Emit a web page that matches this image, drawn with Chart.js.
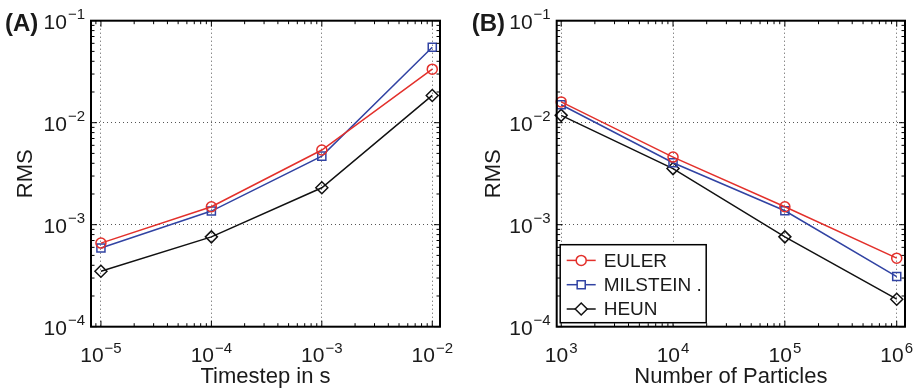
<!DOCTYPE html>
<html>
<head>
<meta charset="utf-8">
<script src="https://cdn.jsdelivr.net/npm/chart.js@4/dist/chart.umd.min.js"></script>
<style>
body { margin: 0; background: #fff; }
#wrapA { position: absolute; left: 0; top: 0; width: 457px; height: 391px; }
#wrapB { position: absolute; left: 457px; top: 0; width: 458px; height: 391px; }
</style>
</head>
<body>
<div id="wrapA"><canvas id="chartA"></canvas></div>
<div id="wrapB"><canvas id="chartB"></canvas></div>
<script>
/* Data */
var timesteps = [1e-5, 1e-4, 1e-3, 1e-2];
var particles = [1e3, 1e4, 1e5, 1e6];

var eulerA = [6.6e-4, 1.5e-3, 5.4e-3, 3.35e-2];
var milsteinA = [5.9e-4, 1.36e-3, 4.7e-3, 5.5e-2];
var heunA = [3.5e-4, 7.6e-4, 2.3e-3, 1.85e-2];

var eulerB = [1.6e-2, 4.6e-3, 1.5e-3, 4.7e-4];
var milsteinB = [1.5e-2, 4.05e-3, 1.37e-3, 3.1e-4];
var heunB = [1.18e-2, 3.55e-3, 7.6e-4, 1.86e-4];

var seriesNames = ['EULER', 'MILSTEIN .', 'HEUN'];
var xTicksA = [-5, -4, -3, -2];
var xTicksB = [3, 4, 5, 6];
var yTicks = [-4, -3, -2, -1];

var RED = '#e3302b';
var BLUE = '#3143a3';
var BLACK = '#111111';
var FONT = "'Liberation Sans', Arial, Helvetica, sans-serif";

function pts(xs, ys) {
    var out = [];
    for (let i = 0; i < xs.length; i++) {
        out.push({x: xs[i], y: ys[i]});
    }
    return out;
}

function makeSets(xs, e, m, h) {
    return [
        {label: seriesNames[0], data: pts(xs, e), borderColor: RED, pointStyle: 'circle', pointRadius: 5},
        {label: seriesNames[1], data: pts(xs, m), borderColor: BLUE, pointStyle: 'rect', pointRadius: 5.7},
        {label: seriesNames[2], data: pts(xs, h), borderColor: BLACK, pointStyle: 'rectRot', pointRadius: 6}
    ].map(function(d) {
        d.borderWidth = 1.5;
        d.pointBorderColor = d.borderColor;
        d.pointBackgroundColor = 'rgba(0,0,0,0)';
        d.pointBorderWidth = 1.5;
        d.tension = 0;
        d.clip = false;
        return d;
    });
}

/* draws 10^n as text with a raised exponent */
function drawPow(ctx, n, x, y, mode) {
    var base = '10';
    var ex = (n < 0 ? '\u2212' : '') + Math.abs(n);
    ctx.font = '21px ' + FONT;
    var wb = ctx.measureText(base).width;
    ctx.font = '15px ' + FONT;
    var we = ctx.measureText(ex).width;
    var left, raise;
    if (mode == 'x') {
        left = x - (wb + we + 1) / 2;
        raise = 8.5;
    } else {
        left = x - (wb + we + 1);
        raise = 10;
    }
    ctx.fillStyle = '#1a1a1a';
    ctx.textBaseline = 'alphabetic';
    ctx.textAlign = 'left';
    ctx.font = '21px ' + FONT;
    ctx.fillText(base, left, y);
    ctx.font = '15px ' + FONT;
    ctx.fillText(ex, left + wb + 1, y - raise);
}

var matlabAxes = {
    id: 'matlabAxes',
    afterDraw: function(chart, args, opts) {
        var ctx = chart.ctx;
        var ca = chart.chartArea;
        var xs = chart.scales.x;
        var ys = chart.scales.y;
        ctx.save();
        ctx.strokeStyle = '#000';
        ctx.lineWidth = 1;
        /* inward ticks, major + minor */
        function tickLoop(scale, horiz) {
            var lo = Math.floor(Math.log10(scale.min));
            var hi = Math.ceil(Math.log10(scale.max));
            for (let n = lo; n <= hi; n++) {
                for (let k = 1; k <= 9; k++) {
                    var v = k * Math.pow(10, n);
                    if (v < scale.min || v > scale.max) continue;
                    var p = scale.getPixelForValue(v);
                    var len = (k == 1) ? 6 : 3.5;
                    ctx.beginPath();
                    if (horiz) {
                        ctx.moveTo(p, ca.bottom); ctx.lineTo(p, ca.bottom - len);
                        ctx.moveTo(p, ca.top); ctx.lineTo(p, ca.top + len);
                    } else {
                        ctx.moveTo(ca.left, p); ctx.lineTo(ca.left + len, p);
                        ctx.moveTo(ca.right, p); ctx.lineTo(ca.right - len, p);
                    }
                    ctx.stroke();
                }
            }
        }
        tickLoop(xs, true);
        tickLoop(ys, false);
        ctx.lineWidth = 2;
        ctx.strokeRect(ca.left, ca.top, ca.right - ca.left, ca.bottom - ca.top);

        /* tick labels */
        opts.xExp.forEach(function(n) {
            drawPow(ctx, n, xs.getPixelForValue(Math.pow(10, n)), ca.bottom + 35, 'x');
        });
        yTicks.forEach(function(n) {
            drawPow(ctx, n, ca.left - 6, ys.getPixelForValue(Math.pow(10, n)) + 8.5, 'y');
        });

        /* panel letter */
        ctx.font = 'bold 24px ' + FONT;
        ctx.fillStyle = '#1a1a1a';
        ctx.textAlign = 'left';
        ctx.textBaseline = 'alphabetic';
        ctx.fillText(opts.letter, opts.letterX, 31);

        /* legend box */
        if (opts.legend) {
            var bl = ca.left + 3.5, bb = ca.bottom - 4, bw = 146, bh = 78;
            var bt = bb - bh;
            ctx.fillStyle = '#fff';
            ctx.fillRect(bl, bt, bw, bh);
            ctx.lineWidth = 1.5;
            ctx.strokeStyle = '#000';
            ctx.strokeRect(bl, bt, bw, bh);
            chart.data.datasets.forEach(function(d, i) {
                var cy = bt + 15.7 + i * 24.3;
                ctx.strokeStyle = d.borderColor;
                ctx.lineWidth = 1.5;
                ctx.beginPath();
                ctx.moveTo(bl + 6.5, cy); ctx.lineTo(bl + 35.5, cy);
                ctx.stroke();
                var cx = bl + 21, r = d.pointRadius;
                ctx.beginPath();
                if (d.pointStyle == 'circle') {
                    ctx.arc(cx, cy, r, 0, Math.PI * 2);
                } else if (d.pointStyle == 'rect') {
                    var s = r * Math.SQRT1_2;
                    ctx.rect(cx - s, cy - s, 2 * s, 2 * s);
                } else {
                    ctx.moveTo(cx - r, cy); ctx.lineTo(cx, cy - r);
                    ctx.lineTo(cx + r, cy); ctx.lineTo(cx, cy + r);
                    ctx.closePath();
                }
                ctx.fillStyle = '#fff';
                ctx.fill();
                ctx.stroke();
                ctx.fillStyle = '#1a1a1a';
                ctx.font = '19px ' + FONT;
                ctx.textBaseline = 'middle';
                ctx.fillText(d.label, bl + 43.5, cy + 1);
            });
        }
        ctx.restore();
    }
};

function decadeTicks(list) {
    return function(scale) {
        scale.ticks = list.map(function(n) { return {value: Math.pow(10, n)}; });
    };
}

function makeConfig(xs, e, m, h, xMin, xMax, xExp, xTitle, yWidth, titlePad, padRight, letter, letterX, legend) {
    return {
        type: 'line',
        data: {datasets: makeSets(xs, e, m, h)},
        options: {
            responsive: true,
            maintainAspectRatio: false,
            animation: false,
            layout: {padding: {left: 0, right: padRight, top: 20.7, bottom: 0}},
            plugins: {
                legend: {display: false},
                tooltip: {enabled: false},
                matlabAxes: {xExp: xExp, letter: letter, letterX: letterX, legend: legend}
            },
            scales: {
                x: {
                    type: 'logarithmic',
                    min: xMin,
                    max: xMax,
                    afterBuildTicks: decadeTicks(xExp),
                    afterFit: function(scale) { scale.height = 64.3; },
                    ticks: {display: false},
                    grid: {color: '#555', lineWidth: 1, drawTicks: false},
                    border: {display: false, dash: [1, 3]},
                    title: {display: true, text: xTitle, color: '#1a1a1a',
                        font: {family: FONT, size: 22}, padding: {top: 0, bottom: 1}}
                },
                y: {
                    type: 'logarithmic',
                    min: 1e-4,
                    max: 1e-1,
                    afterBuildTicks: decadeTicks(yTicks),
                    afterFit: function(scale) { scale.width = yWidth; },
                    ticks: {display: false},
                    grid: {color: '#555', lineWidth: 1, drawTicks: false},
                    border: {display: false, dash: [1, 3]},
                    title: {display: true, text: 'RMS', color: '#1a1a1a',
                        font: {family: FONT, size: 22}, padding: {top: titlePad, bottom: 0}}
                }
            }
        },
        plugins: [matlabAxes]
    };
}

var chartA = new Chart(
    document.getElementById('chartA'),
    makeConfig(timesteps, eulerA, milsteinA, heunA, Math.pow(10, -5.09), Math.pow(10, -1.93),
        xTicksA, 'Timestep in s', 91, 12.8, 17, '(A)', 5, false)
);
var chartB = new Chart(
    document.getElementById('chartB'),
    makeConfig(particles, eulerB, milsteinB, heunB, Math.pow(10, 2.96), Math.pow(10, 6.074),
        xTicksB, 'Number of Particles', 99.7, 24, 10, '(B)', 14.7, true)
);
</script>
</body>
</html>
